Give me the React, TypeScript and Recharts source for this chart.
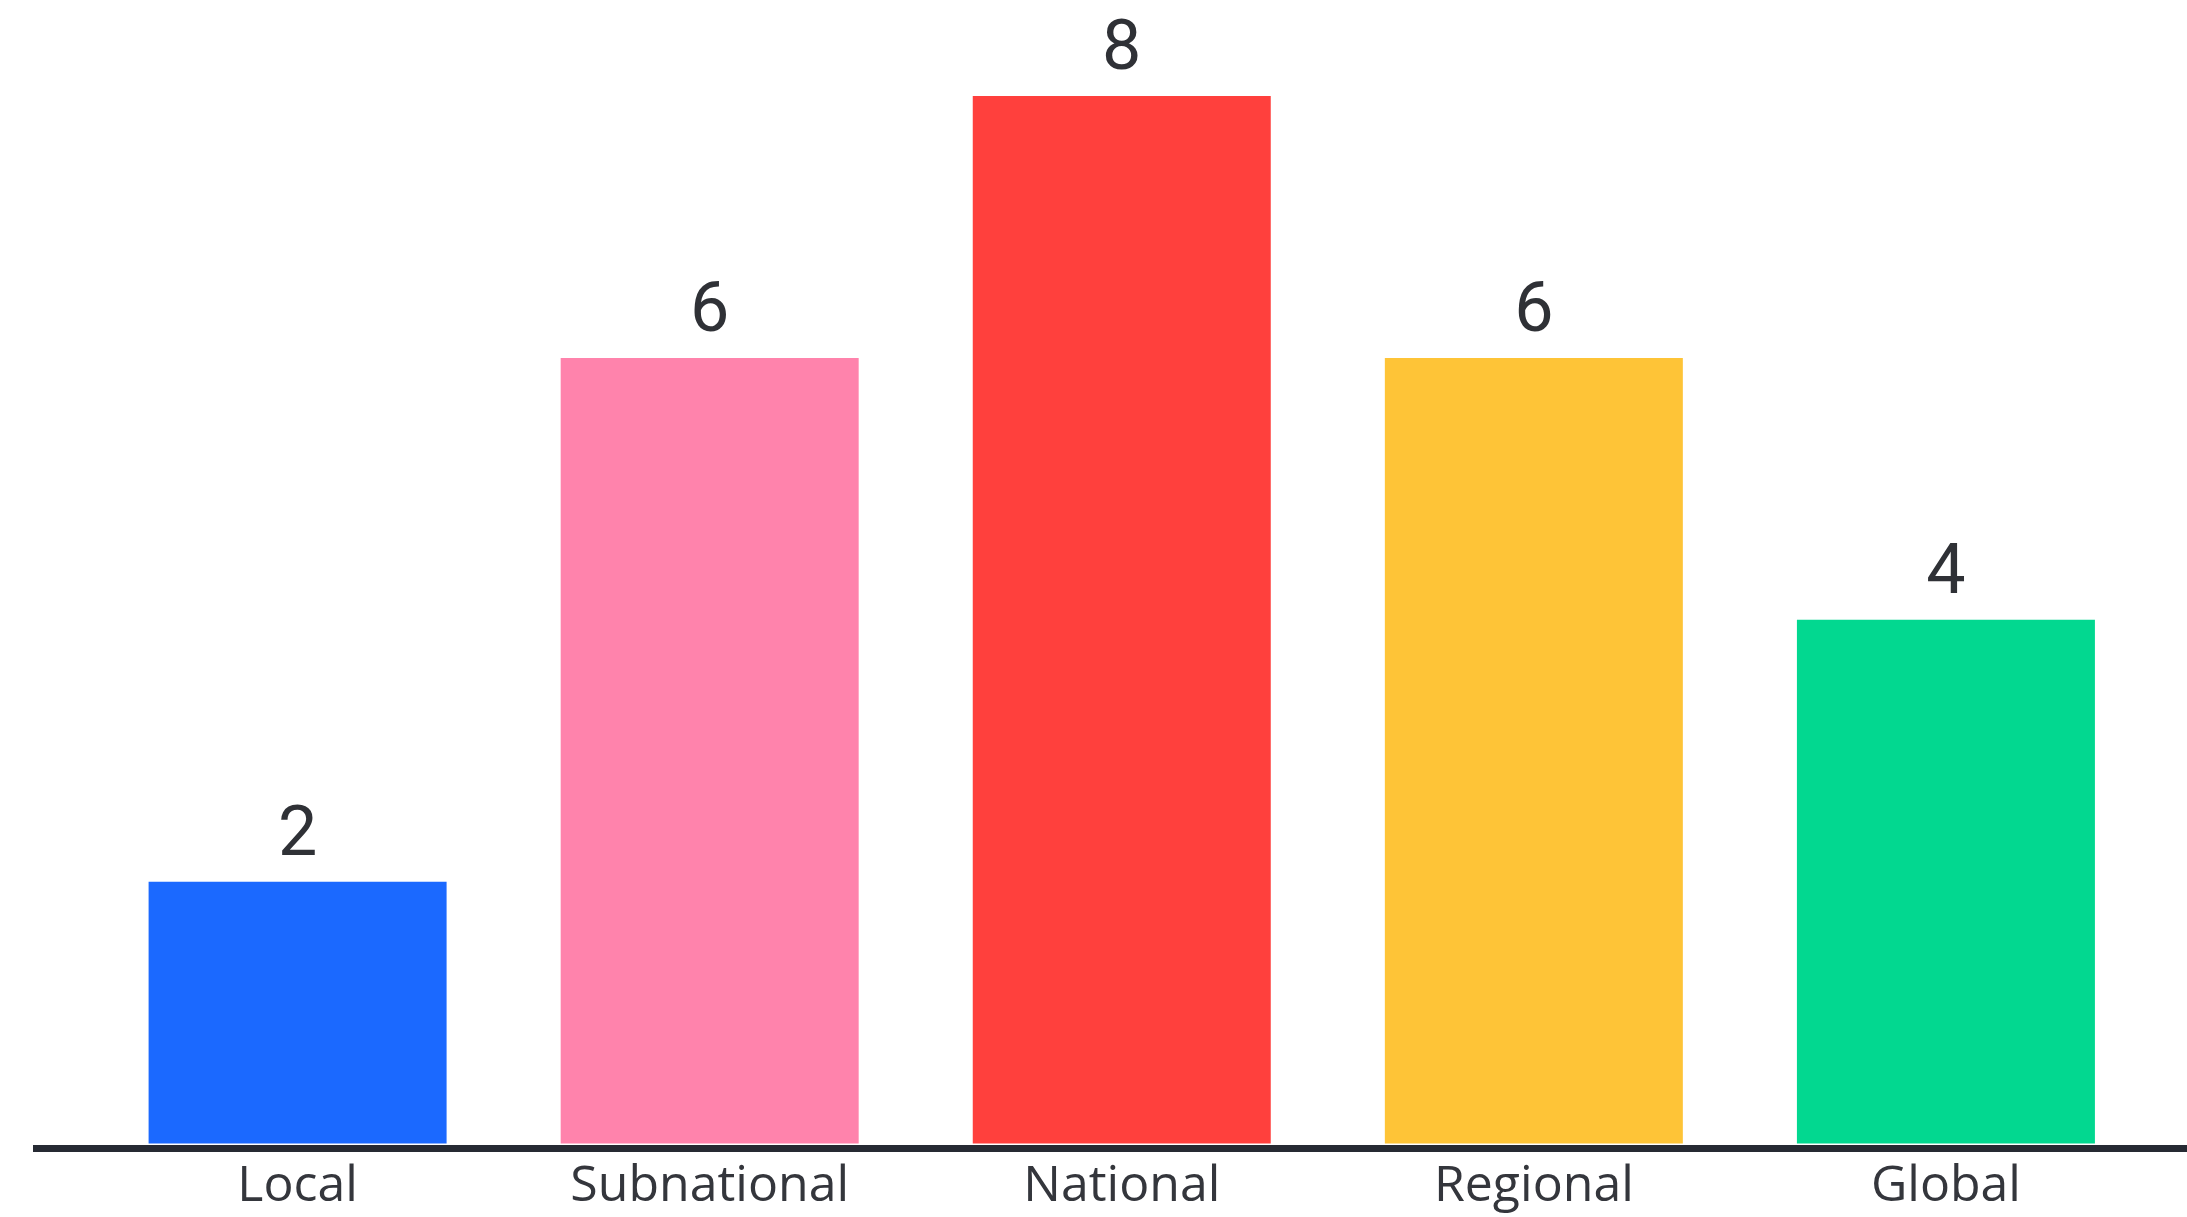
import { Bar, BarChart, Cell, LabelList, XAxis, YAxis } from "recharts";

const categories = ["Local", "Subnational", "National", "Regional", "Global"];
const counts = [2, 6, 8, 6, 4];
const barColors = ["#1b69ff", "#ff83ac", "#ff403d", "#fec437", "#02d890"];

const data = categories.map((name, i) => ({ name, value: counts[i] }));

const FONT = "'Open Sans', sans-serif";

export default function App() {
  return (
    <div style={{ position: "absolute", left: 0, top: 0, background: "#fff" }}>
      <BarChart
        width={2187}
        height={1217}
        data={data}
        margin={{ top: 96, right: 0, bottom: 0.5, left: 33 }}
      >
        <XAxis
          dataKey="name"
          height={68}
          padding={{ left: 58.6, right: 35 }}
          axisLine={{ stroke: "#262a33", strokeWidth: 7 }}
          tickLine={false}
          tickSize={0}
          tickMargin={17}
          tick={{ fill: "#34363c", fontSize: 50, fontFamily: FONT }}
          interval={0}
        />
        <YAxis hide width={0} domain={[-0.0374, 8]} allowDataOverflow />
        <Bar dataKey="value" barSize={298} isAnimationActive={false}>
          {data.map((d, i) => (
            <Cell key={d.name} fill={barColors[i]} />
          ))}
          {/* Roboto's shorter ascent keeps the top "8" inside the svg */}
          <LabelList
            dataKey="value"
            position="top"
            offset={27}
            fill="#2f3136"
            fontSize={70}
            fontFamily="Roboto, sans-serif"
          />
        </Bar>
      </BarChart>
    </div>
  );
}
